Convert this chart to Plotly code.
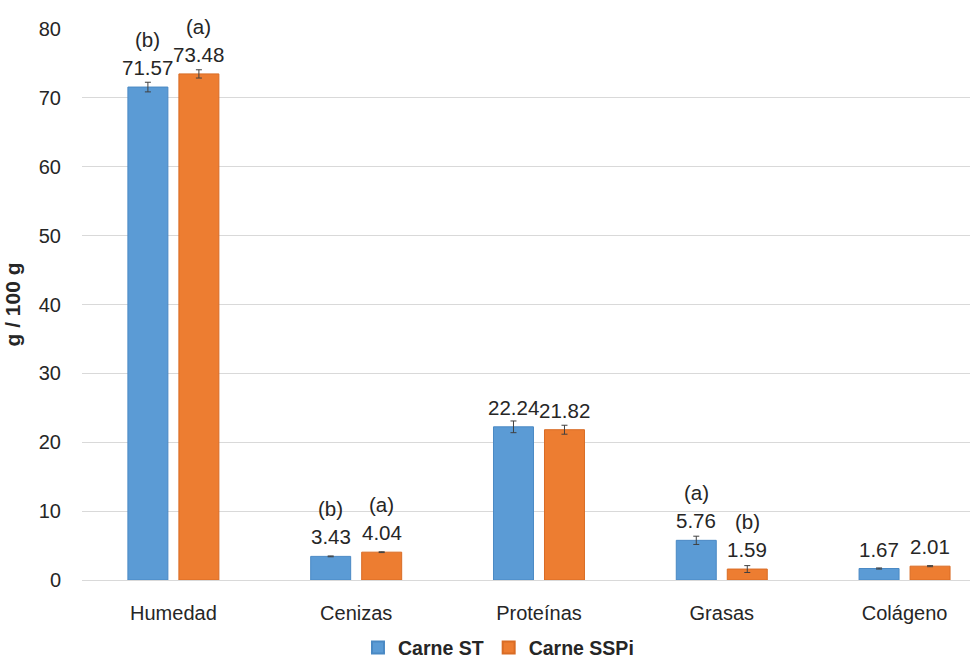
import plotly.graph_objects as go

# Composition of meat samples (g / 100 g)
categories = ["Humedad", "Cenizas", "Proteínas", "Grasas", "Colágeno"]

st_values = [71.57, 3.43, 22.24, 5.76, 1.67]
st_errors = [0.70, 0.06, 0.85, 0.60, 0.08]
st_letters = ["(b)", "(b)", "", "(a)", ""]

sspi_values = [73.48, 4.04, 21.82, 1.59, 2.01]
sspi_errors = [0.60, 0.06, 0.65, 0.50, 0.08]
sspi_letters = ["(a)", "(a)", "", "(b)", ""]

y_ticks = [0, 10, 20, 30, 40, 50, 60, 70, 80]

BLUE = "#5B9BD5"
ORANGE = "#ED7D31"
TEXT = "#262626"
GRID = "#D9D9D9"
BASE_FONT = "Liberation Sans, Arial, sans-serif"

fig = go.Figure()


def add_series(name, values, errors, fill, edge):
    fig.add_trace(go.Bar(
        name=name,
        x=categories,
        y=values,
        marker=dict(color=fill, line=dict(color=edge, width=1)),
        error_y=dict(type="data", array=errors, visible=True,
                     color="#404040", thickness=1, width=3),
    ))


add_series("Carne ST", st_values, st_errors, BLUE, "#4A89C4")
add_series("Carne SSPi", sspi_values, sspi_errors, ORANGE, "#D96C25")

# Value labels and significance letters above each bar
annotations = []
for values, letters, shift in ((st_values, st_letters, -25.5),
                               (sspi_values, sspi_letters, 25.5)):
    for cat, v, letter in zip(categories, values, letters):
        annotations.append(dict(
            x=cat, y=v, xref="x", yref="y", xshift=shift, yshift=6,
            text=f"{v:.2f}", showarrow=False, yanchor="bottom",
            font=dict(family=BASE_FONT, size=20.5, color=TEXT),
        ))
        if letter:
            annotations.append(dict(
                x=cat, y=v, xref="x", yref="y", xshift=shift, yshift=34,
                text=letter, showarrow=False, yanchor="bottom",
                font=dict(family=BASE_FONT, size=20.5, color=TEXT),
            ))

fig.update_layout(
    width=970,
    height=659,
    margin=dict(l=82, r=0, t=29, b=79, autoexpand=False),
    paper_bgcolor="white",
    plot_bgcolor="white",
    barmode="group",
    bargap=0.442,
    bargroupgap=0.216,
    font=dict(family=BASE_FONT, size=20, color=TEXT),
    annotations=annotations,
    showlegend=True,
    legend=dict(
        orientation="h",
        x=0.469, xref="paper", xanchor="center",
        y=0.017, yref="container", yanchor="middle",
        font=dict(family=BASE_FONT, size=19.5, color=TEXT, weight="bold"),
        itemsizing="constant",
    ),
)

fig.update_xaxes(
    type="category",
    range=[-0.5, 4.358],
    showgrid=False,
    showline=False,
    zeroline=False,
    ticks="",
    ticklabelstandoff=19,
    tickfont=dict(family=BASE_FONT, size=20, color=TEXT),
)

fig.update_yaxes(
    range=[0, 80],
    tickvals=y_ticks,
    showgrid=True,
    gridcolor=GRID,
    gridwidth=1,
    zeroline=True,
    zerolinecolor=GRID,
    zerolinewidth=1,
    showline=False,
    ticks="",
    ticklabelstandoff=20,
    tickfont=dict(family=BASE_FONT, size=20, color=TEXT),
    title=dict(text="<b>g / 100 g</b>", standoff=12,
               font=dict(family=BASE_FONT, size=21, color=TEXT)),
)

fig.write_html("out.html")
